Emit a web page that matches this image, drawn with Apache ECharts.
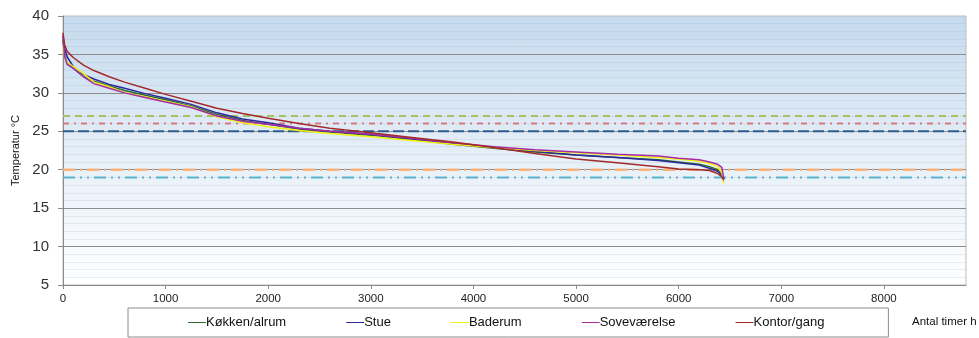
<!DOCTYPE html>
<html>
<head>
<meta charset="utf-8">
<title>Temperatur varighedskurver</title>
<script src="https://cdn.jsdelivr.net/npm/echarts@6/dist/echarts.min.js"></script>
<style>
  html, body { margin: 0; padding: 0; background: #ffffff; }
  #chart { width: 979px; height: 338px; }
</style>
</head>
<body>
<div id="chart"></div>
<script>
// Hours (sorted duration axis) at which each room's temperature is sampled
const hours = [0, 15, 40, 100, 200, 300, 450, 600, 800, 1000, 1250, 1500, 1750, 2000, 2300,
  2600, 3000, 3400, 3800, 4200, 4600, 5000, 5400, 5800, 6000, 6200, 6300, 6380, 6420, 6440];

const koekkenAlrum = [36.8, 35.0, 34.0, 33.2, 32.1, 31.5, 30.9, 30.3, 29.7, 29.1, 28.3, 27.2, 26.4, 25.9, 25.3,
  24.9, 24.5, 23.9, 23.3, 22.8, 22.3, 21.9, 21.6, 21.3, 21.0, 20.7, 20.4, 20.0, 19.5, 18.9];
const stue = [37.3, 35.8, 34.7, 33.4, 32.4, 31.8, 31.1, 30.6, 29.9, 29.3, 28.5, 27.4, 26.6, 26.1, 25.4,
  25.0, 24.6, 24.0, 23.4, 22.9, 22.4, 21.9, 21.6, 21.2, 20.9, 20.6, 20.2, 19.8, 19.3, 18.8];
const baderum = [36.0, 34.8, 34.0, 33.4, 32.5, 31.4, 30.8, 30.0, 29.5, 28.9, 28.2, 26.9, 26.1, 25.6, 25.1,
  24.7, 24.3, 23.8, 23.3, 22.9, 22.5, 22.2, 21.9, 21.6, 21.4, 21.1, 20.8, 20.4, 19.6, 18.2];
const sovevaerelse = [37.5, 34.8, 33.7, 33.2, 32.1, 31.2, 30.6, 30.0, 29.4, 28.8, 28.1, 27.0, 26.3, 25.9, 25.4,
  25.0, 24.6, 24.1, 23.5, 23.0, 22.6, 22.3, 22.0, 21.8, 21.5, 21.3, 21.0, 20.7, 20.3, 18.8];
const kontorGang = [37.8, 36.3, 35.4, 34.6, 33.6, 32.9, 32.1, 31.4, 30.6, 29.8, 28.9, 28.0, 27.3, 26.7, 26.0,
  25.4, 24.8, 24.2, 23.6, 22.9, 22.1, 21.4, 20.9, 20.4, 20.1, 20.0, 19.9, 19.5, 19.1, 18.6];

const roomNames = ['Køkken/alrum', 'Stue', 'Baderum', 'Soveværelse', 'Kontor/gang'];
const roomValues = [koekkenAlrum, stue, baderum, sovevaerelse, kontorGang];
const roomColors = ['#2e6b2e', '#2a2a9c', '#f2f20c', '#a62ca6', '#a32a2a'];

// Comfort / limit levels drawn as horizontal reference lines
const refLevels = [27, 26, 25, 20, 19];
const refStyles = [
  { color: '#a3c265', width: 2, type: [7, 5] },
  { color: '#d77a7a', width: 2, type: [6, 5, 2, 5] },
  { color: '#2f5a8e', width: 2, type: [11, 4] },
  { color: '#f8b27c', width: 2.5, type: [12, 5, 2, 5] },
  { color: '#5bb3cb', width: 2, type: [12, 5, 2, 5, 2, 5] }
];

// Axis ranges and tick labels
const xMin = 0, xMax = 8800;
const xTicks = [0, 1000, 2000, 3000, 4000, 5000, 6000, 7000, 8000];
const yMin = 5, yMax = 40, yStep = 5;

const series = [];
refLevels.forEach((lvl, i) => {
  series.push({
    name: 'ref' + lvl,
    type: 'line',
    data: [[xMin, lvl], [xMax, lvl]],
    symbol: 'none',
    silent: true,
    z: 1,
    lineStyle: refStyles[i]
  });
});
roomNames.forEach((name, i) => {
  series.push({
    name: name,
    type: 'line',
    data: hours.map((h, j) => [h, roomValues[i][j]]),
    symbol: 'none',
    z: 3,
    color: roomColors[i],
    lineStyle: { width: 1.5, color: roomColors[i] }
  });
});

const chart = echarts.init(document.getElementById('chart'), null, { renderer: 'canvas' });
chart.setOption({
  animation: false,
  backgroundColor: '#ffffff',
  textStyle: { fontFamily: 'Liberation Sans, Arial, sans-serif' },
  grid: {
    left: 63, right: 13, top: 16, bottom: 53,
    show: true,
    borderColor: '#bdbdbd',
    borderWidth: 1,
    backgroundColor: new echarts.graphic.LinearGradient(0, 0, 0, 1, [
      { offset: 0, color: '#c5daee' },
      { offset: 0.55, color: '#e8f0f8' },
      { offset: 1, color: '#ffffff' }
    ])
  },
  xAxis: {
    type: 'value',
    min: xMin, max: xMax, interval: 1000,
    axisLine: { show: true, onZero: false, lineStyle: { color: '#8a8a8a', width: 1 } },
    axisTick: { show: true, length: 4, customValues: xTicks, lineStyle: { color: '#8a8a8a' } },
    axisLabel: {
      customValues: xTicks, color: '#222222', fontSize: 11.5, margin: 8,
      formatter: (v) => String(v)
    },
    splitLine: { show: false }
  },
  yAxis: {
    type: 'value',
    min: yMin, max: yMax, interval: yStep,
    name: 'Temperatur °C',
    nameLocation: 'middle',
    nameGap: 41,
    nameRotate: 90,
    nameTextStyle: { color: '#111111', fontSize: 11 },
    axisLine: { show: true, lineStyle: { color: '#8a8a8a', width: 1 } },
    axisTick: { show: true, inside: false, length: 5, lineStyle: { color: '#8a8a8a' } },
    axisLabel: { color: '#333333', fontSize: 15, margin: 14 },
    splitLine: { show: true, showMaxLine: false, lineStyle: { color: '#8c8c8c', width: 1 } },
    minorTick: { show: false, splitNumber: 5 },
    minorSplitLine: { show: true, lineStyle: { color: 'rgba(150,175,205,0.2)', width: 1 } }
  },
  legend: {
    data: roomNames,
    left: 128,
    top: 308,
    padding: [8, 64, 8, 60],
    itemGap: 60,
    itemWidth: 18,
    itemHeight: 1,
    icon: 'rect',
    borderColor: '#8a8a8a',
    borderWidth: 1,
    textStyle: { color: '#111111', fontSize: 13, padding: [0, 0, 0, -5] }
  },
  graphic: [{
    type: 'text',
    left: 912,
    top: 316,
    style: { text: 'Antal timer h', fill: '#111111', font: '11.5px "Liberation Sans", Arial, sans-serif' }
  }],
  series: series
});
</script>
</body>
</html>
